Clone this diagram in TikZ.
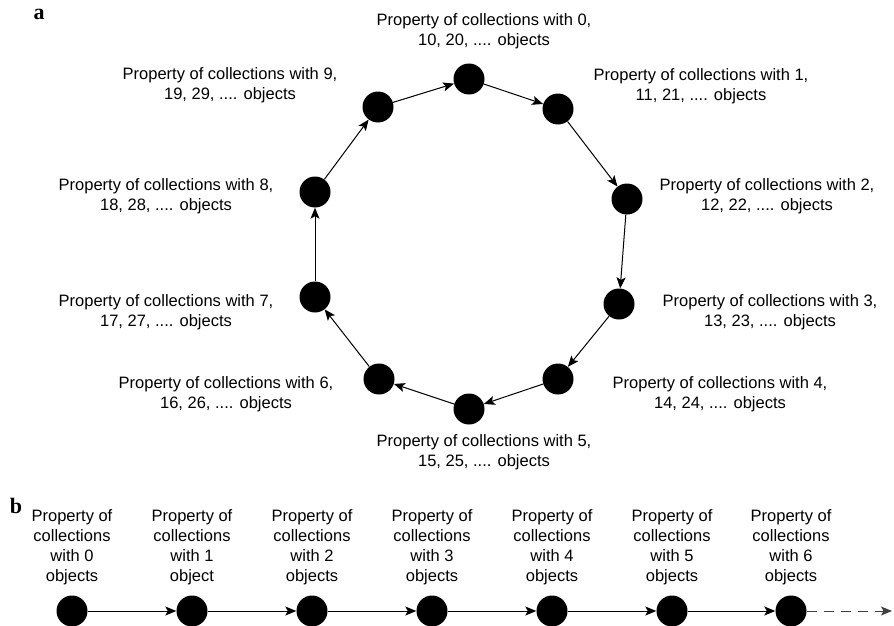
\documentclass[tikz,border=0pt]{standalone}
\usepackage{fontspec}
\setmainfont{Liberation Sans}
\newfontfamily\serifbold{Liberation Serif}
\usetikzlibrary{arrows.meta}
\tikzset{
  dot/.style={circle,fill=black,draw=none,minimum size=31pt,inner sep=0pt},
  lbl/.style={align=center,inner sep=0pt,font=\fontsize{16.5}{20}\selectfont},
  panel/.style={inner sep=0pt,font=\serifbold\bfseries\fontsize{22}{24}\selectfont},
  conn/.style={line width=1pt,-{Stealth[length=11pt,width=9pt,inset=2.5pt]}},
  dconn/.style={line width=1pt,dash pattern=on 10pt off 7pt,draw=black!75,
    -{Stealth[length=11pt,width=9pt,inset=2.5pt,fill=black!75]}}
}
\begin{document}
\begin{tikzpicture}[x=1pt,y=-1pt]
\useasboundingbox (0,0) rectangle (894,626);
\node[panel] (pa) at (39,14) {a};
\node[panel] (pb) at (16,506) {b};
% ring
\node[dot] (n0) at (469,79) {};
\node[dot] (n1) at (558,109) {};
\node[dot] (n2) at (627,199) {};
\node[dot] (n3) at (619,304) {};
\node[dot] (n4) at (558,379) {};
\node[dot] (n5) at (469,409) {};
\node[dot] (n6) at (379,379) {};
\node[dot] (n7) at (315,297) {};
\node[dot] (n8) at (315,192) {};
\node[dot] (n9) at (378,107) {};
\node[lbl] (l0) at (484,31) {Property of collections with 0,\\10, 20, .... objects};
\node[lbl] (l1) at (701,86) {Property of collections with 1,\\11, 21, .... objects};
\node[lbl] (l2) at (767,196) {Property of collections with 2,\\12, 22, .... objects};
\node[lbl] (l3) at (770,312) {Property of collections with 3,\\13, 23, .... objects};
\node[lbl] (l4) at (720,394) {Property of collections with 4,\\14, 24, .... objects};
\node[lbl] (l5) at (484,452) {Property of collections with 5,\\15, 25, .... objects};
\node[lbl] (l6) at (226,394) {Property of collections with 6,\\16, 26, .... objects};
\node[lbl] (l7) at (166,312) {Property of collections with 7,\\17, 27, .... objects};
\node[lbl] (l8) at (166,196) {Property of collections with 8,\\18, 28, .... objects};
\node[lbl] (l9) at (230,85) {Property of collections with 9,\\19, 29, .... objects};
\draw[conn] (n0) -- (n1);
\draw[conn] (n1) -- (n2);
\draw[conn] (n2) -- (n3);
\draw[conn] (n3) -- (n4);
\draw[conn] (n4) -- (n5);
\draw[conn] (n5) -- (n6);
\draw[conn] (n6) -- (n7);
\draw[conn] (n7) -- (n8);
\draw[conn] (n8) -- (n9);
\draw[conn] (n9) -- (n0);
% chain
\node[dot] (c0) at (72,611) {};
\node[dot] (c1) at (192,611) {};
\node[dot] (c2) at (312,611) {};
\node[dot] (c3) at (432,611) {};
\node[dot] (c4) at (552,611) {};
\node[dot] (c5) at (672,611) {};
\node[dot] (c6) at (791,611) {};
\coordinate (cend) at (892,611);
\node[lbl] (t0) at (72,547) {Property of\\collections\\with 0\\objects};
\node[lbl] (t1) at (192,547) {Property of\\collections\\with 1\\object};
\node[lbl] (t2) at (312,547) {Property of\\collections\\with 2\\objects};
\node[lbl] (t3) at (432,547) {Property of\\collections\\with 3\\objects};
\node[lbl] (t4) at (552,547) {Property of\\collections\\with 4\\objects};
\node[lbl] (t5) at (672,547) {Property of\\collections\\with 5\\objects};
\node[lbl] (t6) at (791,547) {Property of\\collections\\with 6\\objects};
\draw[conn] (c0) -- (c1);
\draw[conn] (c1) -- (c2);
\draw[conn] (c2) -- (c3);
\draw[conn] (c3) -- (c4);
\draw[conn] (c4) -- (c5);
\draw[conn] (c5) -- (c6);
\draw[dconn] (c6) -- (cend);
\end{tikzpicture}
\end{document}
